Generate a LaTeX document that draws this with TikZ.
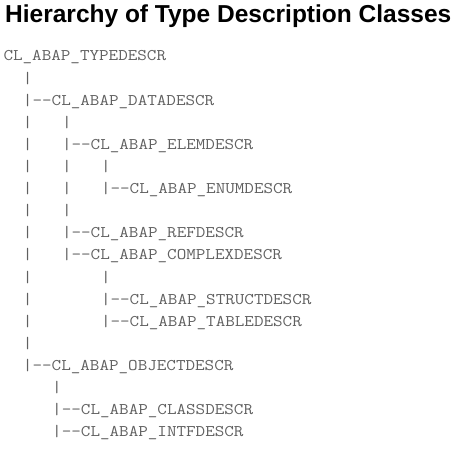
\documentclass[tikz,border=0pt]{standalone}
\usepackage{fontspec}
\setmainfont{Liberation Sans}
% serif typewriter face, widened to a 0.6em advance
\setmonofont{Latin Modern Mono}[FakeStretch=1.143]
\definecolor{treegray}{HTML}{606060}
\begin{document}
\begin{tikzpicture}[x=1pt,y=-1pt,
  heading/.style={anchor=base west,inner sep=0pt,font=\fontsize{24.5}{28}\selectfont\bfseries},
  entry/.style={anchor=base west,inner sep=0pt,text=treegray,font=\fontsize{16.25}{18}\selectfont\ttfamily}]
\path[use as bounding box] (0,0) rectangle (464,452);
\node[heading] (title) at (5,23) {Hierarchy of Type Description Classes};
% column c, row r  ->  (3.3 + 9.75c, 61 + 22.1r)
\def\cw{9.75}
\node[entry] (typedescr)    at ({3.3+0*\cw},{61+0*22.1})  {CL\_ABAP\_TYPEDESCR};
\node[entry] (datadescr)    at ({3.3+2*\cw},{61+2*22.1})  {|--CL\_ABAP\_DATADESCR};
\node[entry] (elemdescr)    at ({3.3+6*\cw},{61+4*22.1})  {|--CL\_ABAP\_ELEMDESCR};
\node[entry] (enumdescr)    at ({3.3+10*\cw},{61+6*22.1}) {|--CL\_ABAP\_ENUMDESCR};
\node[entry] (refdescr)     at ({3.3+6*\cw},{61+8*22.1})  {|--CL\_ABAP\_REFDESCR};
\node[entry] (complexdescr) at ({3.3+6*\cw},{61+9*22.1})  {|--CL\_ABAP\_COMPLEXDESCR};
\node[entry] (structdescr)  at ({3.3+10*\cw},{61+11*22.1}) {|--CL\_ABAP\_STRUCTDESCR};
\node[entry] (tabledescr)   at ({3.3+10*\cw},{61+12*22.1}) {|--CL\_ABAP\_TABLEDESCR};
\node[entry] (objectdescr)  at ({3.3+2*\cw},{61+14*22.1}) {|--CL\_ABAP\_OBJECTDESCR};
\node[entry] (classdescr)   at ({3.3+5*\cw},{61+16*22.1}) {|--CL\_ABAP\_CLASSDESCR};
\node[entry] (intfdescr)    at ({3.3+5*\cw},{61+17*22.1}) {|--CL\_ABAP\_INTFDESCR};
% vertical tree bars
\foreach \c/\r in {2/1,2/3,6/3,2/4,2/5,6/5,10/5,2/6,6/6,2/7,6/7,2/8,2/9,2/10,10/10,2/11,2/12,2/13,5/15}
  \node[entry] (bar-\c-\r) at ({3.3+\c*\cw},{61+\r*22.1}) {|};
\end{tikzpicture}
\end{document}
